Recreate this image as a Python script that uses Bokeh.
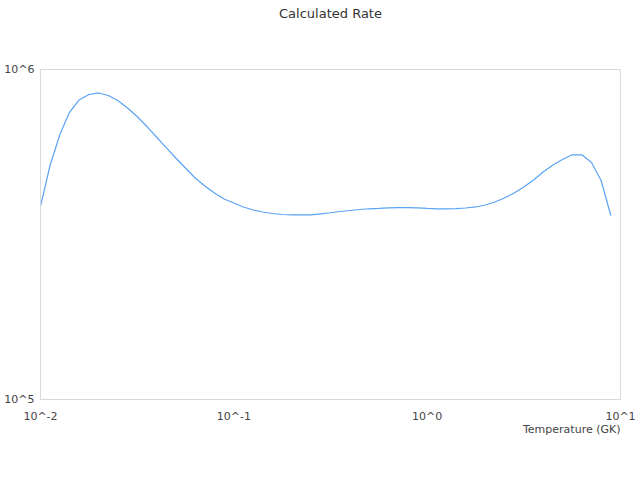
from bokeh.plotting import figure
from bokeh.models import FixedTicker, CustomJSTickFormatter, Title
from bokeh.embed import file_html
from bokeh.resources import INLINE

# Temperature (GK)
temperature = [0.01, 0.0112, 0.0126, 0.0141, 0.0158, 0.0178, 0.02, 0.0224, 0.0251, 0.0282,
               0.0316, 0.0355, 0.0398, 0.0447, 0.0501, 0.0562, 0.0631, 0.0708, 0.0794, 0.0891,
               0.1, 0.112, 0.126, 0.141, 0.158, 0.178, 0.2, 0.224, 0.251, 0.282,
               0.316, 0.355, 0.398, 0.447, 0.501, 0.562, 0.631, 0.708, 0.794, 0.891,
               1.0, 1.12, 1.26, 1.41, 1.58, 1.78, 2.0, 2.24, 2.51, 2.82,
               3.16, 3.55, 3.98, 4.47, 5.01, 5.62, 6.31, 7.08, 7.94, 8.91]
# Calculated rate
rate = [384500, 511800, 635300, 740700, 808000, 840000, 849000, 834000, 805500, 764500,
        720400, 672000, 624400, 580100, 539300, 502900, 469100, 443600, 422500, 405200,
        394000, 383200, 375200, 370000, 366100, 363600, 362800, 362800, 362800, 365400,
        368000, 371300, 373900, 376500, 378400, 379200, 381000, 381300, 381300, 381000,
        379200, 378400, 378400, 378600, 380500, 383200, 388500, 396800, 408000, 422500,
        440500, 462700, 489200, 513600, 533700, 551400, 551400, 522700, 461000, 361100]

x_ticks = [0.01, 0.1, 1, 10]
y_ticks = [1e5, 1e6]

title_text = "Calculated Rate"
x_label = "Temperature (GK)"

FONT = "DejaVu Sans"
GRID = "#d9d9d9"

p = figure(width=640, height=480, x_axis_type="log", y_axis_type="log",
           x_range=(0.01, 10), y_range=(1e5, 1e6),
           output_backend="svg", toolbar_location=None,
           min_border_left=40, min_border_right=20, min_border_top=69, min_border_bottom=81,
           title=None)

# spacer between the frame and the title (panels stack outward from the frame)
spacer = Title(text=" ", text_font=FONT, text_font_size="35px", standoff=0,
               text_color="white")
p.add_layout(spacer, "above")

title = Title(text=title_text, align="center", vertical_align="top", text_font=FONT,
              text_font_size="13px", text_font_style="normal", text_color="#333333",
              standoff=10)
p.add_layout(title, "above")

p.line(temperature, rate, line_color="#5ba3f5", line_width=1.2)

p.xgrid.visible = False
p.ygrid.visible = False
p.outline_line_color = GRID
p.background_fill_color = "white"
p.border_fill_color = "white"

fmt = CustomJSTickFormatter(code="return '10^' + Math.round(Math.log10(tick));")
for ax in (p.xaxis[0], p.yaxis[0]):
    ax.formatter = fmt
    ax.minor_tick_line_color = None
    ax.major_tick_line_color = None
    ax.major_tick_out = 0
    ax.major_tick_in = 0
    ax.axis_line_color = GRID
    ax.major_label_text_font = FONT
    ax.major_label_text_font_size = "11px"
    ax.major_label_text_color = "#444444"

p.xaxis[0].ticker = FixedTicker(ticks=x_ticks)
p.yaxis[0].ticker = FixedTicker(ticks=y_ticks)
p.xaxis[0].major_label_standoff = 10
p.yaxis[0].major_label_standoff = 6

xlab = Title(text=x_label, align="right", text_font=FONT, text_font_size="11px",
             text_font_style="normal", text_color="#444444", standoff=-10)
p.add_layout(xlab, "below")

open("out.html", "w").write(file_html(p, INLINE))
